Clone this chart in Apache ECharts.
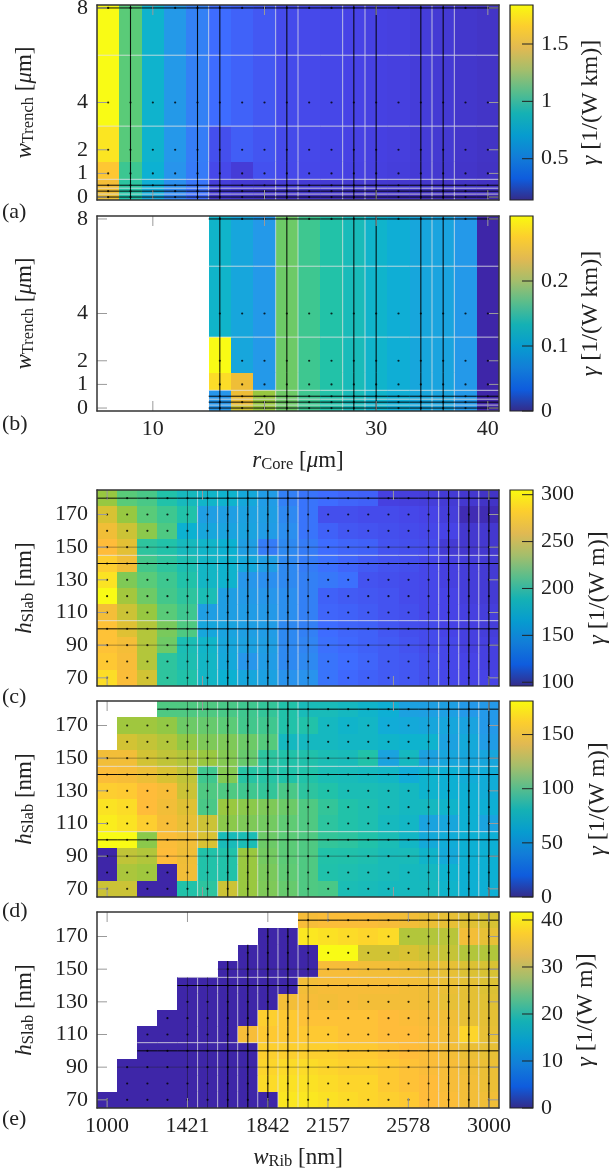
<!DOCTYPE html>
<html>
<head>
<meta charset="utf-8">
<style>html,body{margin:0;padding:0;background:#fff}#main{width:612px;height:1168px}</style>
<script src="https://cdn.jsdelivr.net/npm/echarts@6/dist/echarts.min.js"></script>
</head>
<body>
<div id="main"></div>
<script>
// sweep axes
const rCore = [6, 8, 10, 12, 14, 16, 18, 20, 22, 24, 26, 28, 30, 32, 34, 36, 38, 40];
const wTrench = [8, 4, 2, 1, 0.5, 0.25, 0];
const wRib = [1000, 1105, 1211, 1316, 1421, 1526, 1632, 1737, 1842, 1947, 2053, 2158, 2263, 2368, 2474, 2579, 2684, 2789, 2895, 3000];
const hSlab = [180, 170, 160, 150, 140, 130, 120, 110, 100, 90, 80, 70];

// gamma per panel, one row per y value, top row first
const gammaA = [
  [1.84, 1.16, .84, .67, .565, .48, .44, .395, .345, .335, .325, .31, .30, .29, .275, .26, .24, .225],
  [1.84, 1.16, .84, .67, .565, .48, .44, .395, .345, .335, .325, .31, .30, .29, .275, .26, .24, .225],
  [1.78, 1.15, .84, .66, .55, .36, .42, .385, .34, .33, .32, .305, .295, .285, .27, .255, .235, .22],
  [1.70, 1.07, .82, .64, .54, .33, .27, .37, .335, .325, .315, .3, .29, .28, .265, .25, .23, .215],
  [1.62, 1.02, .80, .62, .52, .28, .26, .25, .27, .265, .26, .255, .25, .245, .24, .23, .22, .21],
  [1.60, 1.00, .78, .60, .50, .26, .24, .23, .24, .24, .235, .23, .225, .22, .215, .21, .205, .2],
  [1.58, .98, .76, .58, .48, .24, .22, .21, .2, .2, .195, .19, .19, .185, .18, .175, .17, .165]
];
const gammaB = [
  [null, null, null, null, null, .126, .108, .093, .189, .165, .15, .138, .125, .117, .108, .105, .093, 0],
  [null, null, null, null, null, .126, .108, .093, .189, .165, .15, .138, .125, .117, .108, .105, .093, 0],
  [null, null, null, null, null, .3, .108, .093, .189, .165, .15, .138, .125, .117, .108, .105, .093, 0],
  [null, null, null, null, null, .285, .258, .093, .189, .165, .15, .138, .125, .117, .108, .105, .093, 0],
  [null, null, null, null, null, .09, .258, .21, .189, .165, .15, .138, .125, .117, .108, .105, .093, 0],
  [null, null, null, null, null, .09, .258, .21, .189, .165, .15, .138, .125, .117, .108, .105, .093, 0],
  [null, null, null, null, null, .09, .235, .21, .189, .165, .15, .138, .125, .117, .108, .105, .093, 0]
];
const gammaC = [
  [242, 221, 215, 200, 190, 184, 182, 173, 163, 148, 142, 138, 134, 132, 115, 114, 113, 111, 109, 106],
  [263, 242, 221, 211, 200, 165, 165, 167, 165, 152, 142, 123, 123, 121, 121, 119, 117, 113, 100, 100],
  [276, 259, 238, 217, 180, 171, 169, 169, 163, 155, 142, 132, 127, 125, 123, 121, 119, 117, 109, 109],
  [284, 269, 205, 200, 190, 184, 180, 165, 146, 152, 146, 138, 134, 132, 125, 123, 121, 111, 109, 109],
  [290, 276, 213, 205, 196, 186, 182, 173, 165, 152, 146, 140, 134, 129, 125, 123, 119, 115, 113, 111],
  [297, 234, 221, 211, 200, 186, 182, 159, 155, 152, 148, 144, 140, 125, 123, 121, 119, 115, 113, 111],
  [305, 246, 228, 213, 205, 194, 165, 161, 159, 155, 148, 132, 129, 127, 125, 121, 119, 117, 113, 111],
  [278, 259, 242, 221, 211, 165, 165, 163, 161, 155, 148, 134, 132, 129, 125, 123, 119, 117, 115, 113],
  [286, 267, 251, 232, 217, 171, 169, 165, 163, 152, 148, 138, 134, 132, 127, 123, 121, 117, 115, 113],
  [286, 278, 251, 228, 194, 184, 171, 167, 165, 152, 150, 140, 136, 132, 129, 125, 121, 119, 115, 115],
  [288, 280, 251, 205, 196, 186, 173, 159, 163, 152, 152, 142, 138, 134, 129, 127, 123, 119, 117, 115],
  [295, 282, 261, 205, 200, 186, 180, 171, 167, 157, 157, 142, 136, 132, 129, 127, 123, 119, 117, 117]
];
const gammaD = [
  [null, null, null, 105, 105, 105, 103, 100, 96, 90, 83, 83, 80, 76, 71, 62, 60, 60, 56, 56],
  [null, 129, 129, 125, 114, 112, 109, 101, 100, 90, 90, 80, 76, 78, 69, 67, 65, 65, 63, 56],
  [null, 143, 139, 134, 125, 119, 119, 114, 107, 80, 80, 80, 78, 78, 76, 74, 74, 62, 67, 58],
  [157, 157, 143, 138, 134, 127, 121, 112, 94, 90, 89, 85, 83, 90, 63, 80, 62, 65, 65, 65],
  [161, 159, 154, 145, 138, 100, 121, 92, 92, 90, 90, 85, 83, 81, 78, 69, 74, 72, 69, 69],
  [168, 167, 163, 159, 141, 105, 105, 100, 96, 103, 94, 90, 85, 85, 83, 80, 74, 72, 71, 69],
  [174, 172, 163, 157, 148, 103, 127, 123, 119, 114, 105, 96, 90, 87, 83, 80, 80, 76, 72, 71],
  [177, 174, 168, 159, 152, 141, 123, 119, 116, 110, 105, 94, 90, 87, 81, 78, 63, 65, 72, 63],
  [181, 181, 123, 161, 157, 145, 83, 85, 114, 109, 105, 96, 94, 90, 85, 78, 67, 69, 72, 71],
  [0, 138, 134, 163, 156, 90, 90, 127, 116, 109, 105, 90, 89, 87, 83, 83, 76, 67, 72, 72],
  [0, 132, 129, 0, 157, 90, 90, 127, 118, 110, 105, 89, 87, 85, 83, 81, 80, 74, 72, 72],
  [141, 141, 0, 0, 90, 94, 141, 127, 119, 112, 105, 103, 85, 83, 81, 81, 81, 76, 72, 71]
];
const gammaE = [
  [null, null, null, null, null, null, null, null, null, null, 36.7, 37.1, 37.1, 37.1, 36.7, 36.3, 35.4, 35, 34.2, 33.4],
  [null, null, null, null, null, null, null, null, 0, 0, 40.4, 40, 39.6, 39.2, 39.6, 30.9, 30.9, 31.3, 36.3, 35],
  [null, null, null, null, null, null, null, 0, 0, 0, 0, 41.7, 41.7, 32.9, 32.9, 33.4, 32.5, 32.1, 30.9, 30.9],
  [null, null, null, null, null, null, 0, 0, 0, 0, 0, 36.7, 36.7, 36.3, 36.3, 35.9, 35.4, 35, 33.8, 33.4],
  [null, null, null, null, 0, 0, 0, 0, 0, 0, 36.3, 36.7, 36.7, 36.7, 36.7, 36.3, 35.9, 35.4, 34.6, 33.8],
  [null, null, null, null, 0, 0, 0, 0, 0, 36.3, 36.7, 36.3, 36.7, 36.3, 36.3, 36.3, 35.9, 35, 34.6, 34.2],
  [null, null, null, 0, 0, 0, 0, 0, 38.8, 38.4, 37.9, 37.9, 37.9, 37.9, 37.5, 37.1, 36.7, 35.9, 35, 34.6],
  [null, null, 0, 0, 0, 0, 0, 36.7, 38.4, 38.4, 38.4, 38.4, 37.9, 37.9, 37.5, 37.5, 37.1, 36.3, 39.2, 35],
  [null, null, 0, 0, 0, 0, 0, 0, 38.8, 38.8, 38.8, 38.8, 38.4, 38.4, 37.9, 37.5, 37.1, 36.3, 35.4, 35],
  [null, 0, 0, 0, 0, 0, 0, 0, 39.2, 39.6, 39.6, 39.2, 38.8, 38.8, 38.4, 37.9, 37.1, 36.7, 35.9, 35.4],
  [null, 0, 0, 0, 0, 0, 0, 0, 39.6, 40, 40, 39.6, 39.2, 39.2, 38.4, 37.9, 37.5, 36.7, 36.3, 35.4],
  [0, 0, 0, 0, 0, 0, 0, 0, 0, 40.4, 40.4, 40, 39.6, 39.2, 38.8, 38.4, 37.5, 37.1, 36.3, 35.9]
];

// tick labels
const rCoreTicks = [10, 20, 30, 40];
const wTrenchTicks = [0, 1, 2, 4, 8];
const wRibLabels = [1000, 1421, 1842, 2157, 2578, 3000];
const wRibMinor = [1000, 1500, 2500, 3000];
const hSlabTicks = [70, 90, 110, 130, 150, 170];

// mesh lines left over in the plots
const rDark = [8, 14, 16, 22, 28, 30, 34, 36];
const rPale = [15, 21, 23, 27, 29, 35, 37];
const trenchDark = [8, 0.5, 0.25, 0];
const trenchPale = [6, 3, 0.75, 0.375, 0.125];
const ribDark = [1632, 1737, 1842, 1947, 2789, 2895, 3000];
const ribFaint = [1421, 1526, 2053, 2684];
const ribPale = [1474, 1579, 1684, 1789, 1895, 2000, 2737, 2842, 2947];
const slabDark = [180, 140, 100];
const slabFaint = [150, 90];
const slabPale = [145, 105];

const serif = '"Liberation Serif", "DejaVu Serif", serif';
const heatColors = ['#3e26a8', '#4743e6', '#3e6cff', '#2796eb', '#0cb1d2', '#22c2a8', '#5acb78', '#98c840', '#d8c233', '#ffbc3a', '#f9fb15'];
const barColors = ['#352a87', '#0f5cdd', '#127dd8', '#079ccf', '#15b1b4', '#59bd8c', '#a5be6b', '#e1b952', '#fcce2e', '#f9fb0e'];
const textColor = '#222';

const nameRich = {
  i: { fontFamily: serif, fontStyle: 'italic', fontSize: 23, color: textColor },
  s: { fontFamily: serif, fontSize: 16.5, color: textColor, padding: [7, 0, 0, 0] },
  b: { fontFamily: serif, fontStyle: 'italic', fontSize: 24, color: textColor }
};
const trenchName = '{i|w}{s|Trench} [{i|μ}m]';
const slabName = '{i|h}{s|Slab} [nm]';

const panels = [
  { tag: '(a)', tagY: 213, top: 5, xs: rCore, ys: wTrench, z: gammaA, xRange: [5, 41], yRange: [-0.125, 8.125], zRange: [0.14, 1.84],
    xTicks: rCoreTicks, xLabels: false, yTicks: wTrenchTicks, yName: trenchName, barTicks: [0.5, 1, 1.5], barName: '{b|γ} [1/(W km)]', barGap: 46,
    dark: rDark, faint: [], pale: rPale, yDark: trenchDark, yFaint: [], yPale: trenchPale },
  { tag: '(b)', tagY: 425, top: 216, xs: rCore, ys: wTrench, z: gammaB, xRange: [5, 41], yRange: [-0.125, 8.125], zRange: [0, 0.3],
    xTicks: rCoreTicks, xLabels: true, xName: '{i|r}{s|Core} [{i|μ}m]', yTicks: wTrenchTicks, yName: trenchName, barTicks: [0, 0.1, 0.2], barName: '{b|γ} [1/(W km)]', barGap: 46,
    dark: rDark, faint: [], pale: rPale, yDark: trenchDark, yFaint: [], yPale: trenchPale },
  { tag: '', top: 490, xs: wRib, ys: hSlab, z: gammaC, xRange: [947, 3053], yRange: [65, 185], zRange: [96, 305],
    xTicks: wRibMinor, xLabels: false, yTicks: hSlabTicks, yName: slabName, barTicks: [100, 150, 200, 250, 300], barName: '{b|γ} [1/(W m)]', barGap: 53,
    dark: ribDark, faint: ribFaint, pale: ribPale, yDark: slabDark, yFaint: slabFaint, yPale: slabPale },
  { tag: '', top: 701, xs: wRib, ys: hSlab, z: gammaD, xRange: [947, 3053], yRange: [65, 185], zRange: [0, 181],
    xTicks: wRibMinor, xLabels: false, yTicks: hSlabTicks, yName: slabName, barTicks: [0, 50, 100, 150], barName: '{b|γ} [1/(W m)]', barGap: 53,
    dark: ribDark, faint: ribFaint, pale: ribPale, yDark: slabDark, yFaint: slabFaint, yPale: slabPale },
  { tag: '', top: 912, xs: wRib, ys: hSlab, z: gammaE, xRange: [947, 3053], yRange: [65, 185], zRange: [0, 41.7],
    xTicks: wRibLabels, xLabels: true, xName: '{i|w}{s|Rib} [nm]', yTicks: hSlabTicks, yName: slabName, barTicks: [0, 10, 20, 30, 40], barName: '{b|γ} [1/(W m)]', barGap: 41,
    dark: ribDark, faint: ribFaint, pale: ribPale, yDark: slabDark, yFaint: slabFaint, yPale: slabPale }
];
const panelTags = [['(c)', 698], ['(d)', 912], ['(e)', 1120]];

// cell borders halfway between the sweep points, the outer ones end on the axis
function edgesOf(values, lo, hi) {
  const out = [];
  const rising = values[1] > values[0];
  for (let i = 0; i <= values.length; i++) {
    if (i === 0) out.push(rising ? lo : hi);
    else if (i === values.length) out.push(rising ? hi : lo);
    else out.push((values[i - 1] + values[i]) / 2);
  }
  return out;
}

function cellSeries(p, i) {
  const xe = edgesOf(p.xs, p.xRange[0], p.xRange[1]);
  const ye = edgesOf(p.ys, p.yRange[0], p.yRange[1]);
  const data = [];
  p.z.forEach((row, r) => row.forEach((v, c) => {
    if (v !== null) data.push([c, r, v]);
  }));
  return {
    type: 'custom', xAxisIndex: i * 2, yAxisIndex: i * 2, z: 2, data: data,
    encode: { x: 0, y: 1 },
    renderItem(params, api) {
      const c = api.value(0), r = api.value(1);
      const a = api.coord([xe[c], ye[r]]);
      const b = api.coord([xe[c + 1], ye[r + 1]]);
      const x0 = Math.round(a[0]), y0 = Math.round(a[1]);
      return {
        type: 'rect',
        shape: { x: x0, y: y0, width: Math.round(b[0]) - x0, height: Math.round(b[1]) - y0 },
        style: { fill: api.visual('color') }
      };
    }
  };
}

// mesh lines only run over cells that hold a value
function lineSeries(p, i) {
  const xe = edgesOf(p.xs, p.xRange[0], p.xRange[1]);
  const ye = edgesOf(p.ys, p.yRange[0], p.yRange[1]);
  const segs = [];
  function vertical(list, color, width, opacity) {
    list.forEach(x => {
      let c = 0;
      p.xs.forEach((v, k) => { if (v <= x) c = k; });
      p.ys.forEach((y, r) => {
        if (p.z[r][c] !== null) segs.push({ pts: [x, ye[r], x, ye[r + 1]], color, width, opacity });
      });
    });
  }
  function horizontal(list, color, width, opacity) {
    list.forEach(y => {
      const r = p.ys.findIndex(v => v <= y);
      p.xs.forEach((x, c) => {
        if (p.z[r][c] !== null) segs.push({ pts: [xe[c], y, xe[c + 1], y], color, width, opacity });
      });
    });
  }
  vertical(p.pale, '#e4e4e4', 1, 0.75);
  horizontal(p.yPale, '#e4e4e4', 1, 0.8);
  horizontal(p.yFaint, '#222', 1, 0.4);
  vertical(p.faint, '#111', 1, 0.45);
  vertical(p.dark, '#000', 1.1, 0.9);
  horizontal(p.yDark, '#000', 1, 0.95);
  return {
    type: 'custom', xAxisIndex: i * 2, yAxisIndex: i * 2, z: 3, silent: true,
    data: segs.map((s, k) => [k]),
    encode: { x: [], y: [] },
    renderItem(params, api) {
      const s = segs[params.dataIndex];
      const a = api.coord([s.pts[0], s.pts[1]]);
      const b = api.coord([s.pts[2], s.pts[3]]);
      return {
        type: 'line',
        shape: { x1: a[0], y1: a[1], x2: b[0], y2: b[1] },
        style: { stroke: s.color, lineWidth: s.width, opacity: s.opacity }
      };
    }
  };
}

function dotSeries(p, i) {
  const data = [];
  p.z.forEach((row, r) => row.forEach((v, c) => {
    if (v !== null) data.push([p.xs[c], p.ys[r]]);
  }));
  return {
    type: 'scatter', xAxisIndex: i * 2, yAxisIndex: i * 2, z: 4, silent: true,
    symbolSize: 2.2, itemStyle: { color: '#000' }, data: data
  };
}

// inward ticks on all four sides, placed by the axis scales
function tickSeries(p, i) {
  const ticks = [];
  p.xTicks.forEach(v => { ticks.push([v, p.yRange[0], 0, -10], [v, p.yRange[1], 0, 10]); });
  p.yTicks.forEach(v => { ticks.push([p.xRange[0], v, 10, 0], [p.xRange[1], v, -10, 0]); });
  return {
    type: 'custom', xAxisIndex: i * 2, yAxisIndex: i * 2, z: 5, silent: true, clip: false,
    data: ticks,
    renderItem(params, api) {
      const a = api.coord([api.value(0), api.value(1)]);
      return {
        type: 'line',
        shape: { x1: a[0], y1: a[1], x2: a[0] + api.value(2), y2: a[1] + api.value(3) },
        style: { stroke: '#9a9a9a', lineWidth: 1 }
      };
    }
  };
}

// colorbar: one gradient rect from zmin to zmax, dark ticks on the right edge
function barSeries(p, i) {
  const stops = barColors.map((color, k) => ({ offset: 1 - k / (barColors.length - 1), color }));
  return {
    type: 'custom', xAxisIndex: 10 + i, yAxisIndex: 10 + i, z: 2, silent: true,
    data: [[0, p.zRange[0], 1, p.zRange[1]]],
    renderItem(params, api) {
      const a = api.coord([api.value(0), api.value(3)]);
      const b = api.coord([api.value(2), api.value(1)]);
      return {
        type: 'rect',
        shape: { x: a[0], y: a[1], width: b[0] - a[0], height: b[1] - a[1] },
        style: { fill: new echarts.graphic.LinearGradient(0, 0, 0, 1, stops.slice().reverse()), stroke: '#222', lineWidth: 1.2 }
      };
    }
  };
}

function barTickSeries(p, i) {
  return {
    type: 'custom', xAxisIndex: 10 + i, yAxisIndex: 10 + i, z: 3, silent: true,
    data: p.barTicks.map(v => [1, v]),
    renderItem(params, api) {
      const a = api.coord([api.value(0), api.value(1)]);
      return {
        type: 'line',
        shape: { x1: a[0], y1: a[1], x2: a[0] - 11, y2: a[1] },
        style: { stroke: '#222', lineWidth: 1 }
      };
    }
  };
}

const frameLine = { show: true, onZero: false, lineStyle: { color: '#333', width: 1.5 } };
const labelStyle = { fontFamily: serif, fontSize: 22, color: textColor };
const nameStyle = { fontFamily: serif, fontSize: 23, color: textColor, rich: nameRich };
const barNameStyle = { fontFamily: serif, fontSize: 24, color: textColor, rich: nameRich };

const grids = [], xAxes = [], yAxes = [], series = [], maps = [];

panels.forEach((p, i) => {
  grids.push({ left: 97, top: p.top, width: 402, height: p.top === 5 || p.top === 216 ? 195 : 196, outerBoundsMode: 'none' });
  xAxes.push({
    gridIndex: i, type: 'value', position: 'bottom', min: p.xRange[0], max: p.xRange[1], z: 10,
    axisLine: frameLine, splitLine: { show: false }, axisTick: { show: false },
    axisLabel: Object.assign({ show: p.xLabels, customValues: p.xTicks, margin: 7, hideOverlap: false, formatter: String, showMinLabel: true, showMaxLabel: true }, labelStyle),
    name: p.xName || '', nameLocation: 'middle', nameGap: 38, nameMoveOverlap: false, nameTextStyle: nameStyle
  }, {
    gridIndex: i, type: 'value', position: 'top', min: p.xRange[0], max: p.xRange[1], z: 10,
    axisLine: frameLine, splitLine: { show: false }, axisTick: { show: false },
    axisLabel: { show: false }
  });
  yAxes.push({
    gridIndex: i, type: 'value', position: 'left', min: p.yRange[0], max: p.yRange[1], z: 10,
    axisLine: frameLine, splitLine: { show: false }, axisTick: { show: false },
    axisLabel: Object.assign({ customValues: p.yTicks, margin: 9, hideOverlap: false, formatter: String }, labelStyle),
    name: p.yName, nameLocation: 'middle', nameRotate: 90, nameGap: 60, nameMoveOverlap: false, nameTextStyle: nameStyle
  }, {
    gridIndex: i, type: 'value', position: 'right', min: p.yRange[0], max: p.yRange[1], z: 10,
    axisLine: frameLine, splitLine: { show: false }, axisTick: { show: false },
    axisLabel: { show: false }
  });
  maps.push({
    type: 'continuous', show: false, seriesIndex: series.length, dimension: 2,
    min: p.zRange[0], max: p.zRange[1], inRange: { color: heatColors }
  });
  series.push(cellSeries(p, i), lineSeries(p, i), dotSeries(p, i), tickSeries(p, i));
});

panels.forEach(p => {
  grids.push({ left: 510, top: p.top, width: 23, height: p.top === 5 || p.top === 216 ? 195 : 196, outerBoundsMode: 'none' });
});
panels.forEach((p, i) => {
  xAxes.push({ gridIndex: 5 + i, type: 'value', min: 0, max: 1, show: false });
});
// axis indexes: heat panels use 0..9, colorbars 10..14
panels.forEach((p, i) => {
  yAxes.push({
    gridIndex: 5 + i, type: 'value', position: 'right', min: p.zRange[0], max: p.zRange[1], z: 10,
    axisLine: { show: false }, splitLine: { show: false }, axisTick: { show: false },
    axisLabel: Object.assign({ customValues: p.barTicks, margin: 8, hideOverlap: false, formatter: String }, labelStyle),
    name: p.barName, nameLocation: 'middle', nameRotate: 90, nameGap: p.barGap, nameMoveOverlap: false, nameTextStyle: barNameStyle
  });
  series.push(barSeries(p, i), barTickSeries(p, i));
});

const tags = panels.filter(p => p.tag).map(p => [p.tag, p.tagY]).concat(panelTags);

const chart = echarts.init(document.getElementById('main'), null, { renderer: 'canvas' });
chart.setOption({
  animation: false,
  backgroundColor: '#fff',
  grid: grids,
  xAxis: xAxes,
  yAxis: yAxes,
  visualMap: maps,
  series: series,
  graphic: tags.map(t => ({
    type: 'text', left: 2, top: t[1] - 12,
    style: { text: t[0], font: '22px ' + serif, fill: textColor }
  }))
});
</script>
</body>
</html>
